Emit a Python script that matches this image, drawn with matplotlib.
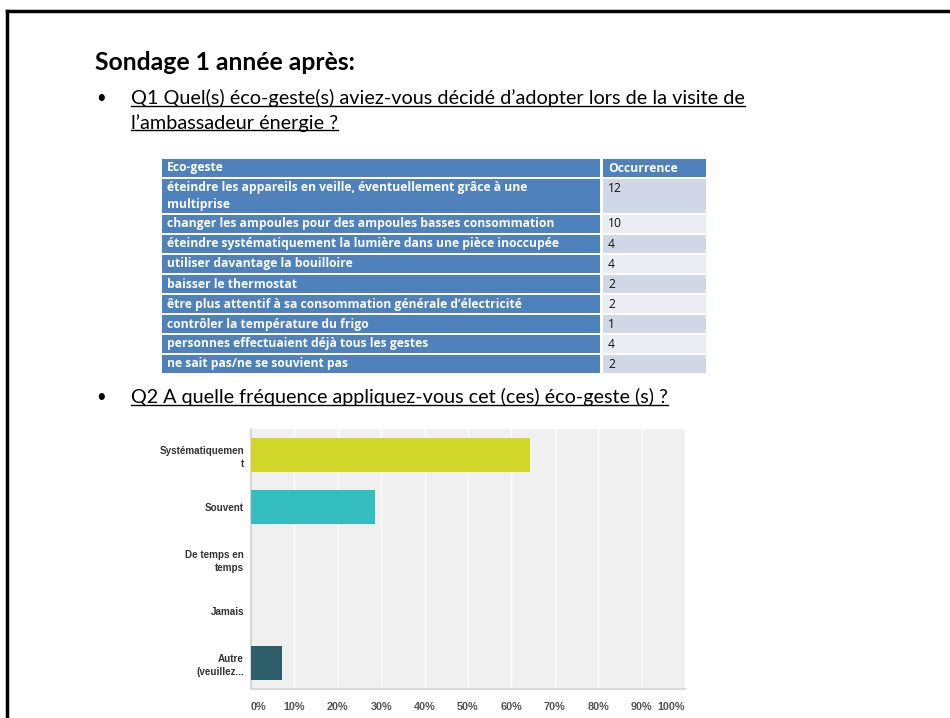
import matplotlib.pyplot as plt
from matplotlib.lines import Line2D
from matplotlib.patches import Rectangle

# --- données ---
titre = "Sondage 1 année après:"
q1 = ["Q1 Quel(s) éco-geste(s) aviez-vous décidé d\u2019adopter lors de la visite de",
      "l\u2019ambassadeur énergie ?"]
q2 = "Q2 A quelle fréquence appliquez-vous cet (ces) éco-geste (s) ?"

entete = ["Eco-geste", "Occurrence"]
gestes = ["éteindre les appareils en veille, éventuellement grâce à une\nmultiprise",
          "changer les ampoules pour des ampoules basses consommation",
          "éteindre systématiquement la lumière dans une pièce inoccupée",
          "utiliser davantage la bouilloire",
          "baisser le thermostat",
          "être plus attentif à sa consommation générale d\u2019électricité",
          "contrôler la température du frigo",
          "personnes effectuaient déjà tous les gestes",
          "ne sait pas/ne se souvient pas"]
occurrences = [12, 10, 4, 4, 2, 2, 1, 4, 2]

frequences = ["Systématiquemen\nt", "Souvent", "De temps en\ntemps", "Jamais", "Autre\n(veuillez..."]
pourcentages = [64.29, 28.57, 0, 0, 7.14]
couleurs = ["#D0D62A", "#34BEC0", "#7FA8B0", "#A0B0B5", "#2E5E69"]
graduations = list(range(0, 101, 10))

W, H = 950, 718
fig = plt.figure(figsize=(W / 100, H / 100), dpi=100)


def fx(x):
    return x / W


def fy(y):
    return 1 - y / H


# cadre de la diapo
fig.add_artist(Line2D([fx(7), 1], [fy(11), fy(11)], lw=2.5, color="black"))
fig.add_artist(Line2D([fx(7), fx(7)], [fy(11), 0], lw=2.5, color="black"))

police = ["Lato", "DejaVu Sans"]
fig.text(fx(95), fy(63), titre, fontsize=17.8, fontweight="bold", family=police, va="center")

soulignes = []
fig.text(fx(96), fy(98), "\u2022", fontsize=12, family=police, va="center")
soulignes.append(fig.text(fx(131), fy(98), q1[0], fontsize=14.3, family=police, va="center"))
soulignes.append(fig.text(fx(131), fy(123), q1[1], fontsize=14.3, family=police, va="center"))
fig.text(fx(96), fy(397), "\u2022", fontsize=12, family=police, va="center")
soulignes.append(fig.text(fx(131), fy(397), q2, fontsize=14.2, family=police, va="center"))

# --- tableau Q1 ---
bleu = "#4F81BD"
bandes = ["#D0D8E8", "#E9EDF4"]
x0, x1, x2, x3 = 162, 600, 603, 706
pol_tab = ["Open Sans", "DejaVu Sans"]
fs_tab = 8.7


def cellule(xa, xb, ya, yb, coul):
    fig.add_artist(Rectangle((fx(xa), fy(yb)), fx(xb - xa), (yb - ya) / H,
                             facecolor=coul, edgecolor="none"))


cellule(x0, x1, 159, 176.5, bleu)
cellule(x2, x3, 159, 176.5, bleu)
fig.text(fx(x0 + 5), fy(168), entete[0], color="white", fontsize=fs_tab, fontweight="bold",
         family=pol_tab, va="center")
fig.text(fx(x2 + 5), fy(168), entete[1], color="white", fontsize=fs_tab, fontweight="bold",
         family=pol_tab, va="center")

y = 179
for i, (g, n) in enumerate(zip(gestes, occurrences)):
    h = 34 if "\n" in g else 18
    cellule(x0, x1, y, y + h, bleu)
    cellule(x2, x3, y, y + h, bandes[i % 2])
    fig.text(fx(x0 + 5), fy(y + h / 2), g, color="white", fontsize=fs_tab, fontweight="bold",
             family=pol_tab, va="center", linespacing=1.35)
    fig.text(fx(x2 + 5), fy(y + 9), str(n), color="#111111", fontsize=fs_tab,
             family=pol_tab, va="center")
    y += h + 2

# --- graphique Q2 ---
ax = fig.add_axes([fx(251), fy(689), fx(685 - 251), (689 - 429) / H])
ax.set_facecolor("#F0F0F0")
pos = list(range(len(frequences)))
ax.barh(pos, pourcentages, height=0.67, color=couleurs, edgecolor="none", zorder=3)
ax.set_xlim(0, 100)
ax.set_ylim(len(frequences) - 0.5, -0.5)
ax.set_xticks(graduations)
ax.set_xticklabels([f"{g}%" for g in graduations])
ax.set_yticks(pos)
ax.set_yticklabels(frequences)
ax.grid(axis="x", color="white", lw=1.0, zorder=1)
ax.set_axisbelow(True)
ax.tick_params(length=0)
ax.tick_params(axis="x", pad=9, labelsize=7.8, labelcolor="#555555")
ax.tick_params(axis="y", pad=5, labelsize=7.1, labelcolor="#333333")
for lab in ax.get_xticklabels() + ax.get_yticklabels():
    lab.set_fontweight("bold")
    lab.set_family(["Liberation Sans", "DejaVu Sans"])
for lab in ax.get_yticklabels():
    lab.set_linespacing(1.35)
ax.get_xticklabels()[0].set_ha("left")
ax.get_xticklabels()[-1].set_ha("right")
for s in ["top", "right"]:
    ax.spines[s].set_visible(False)
ax.spines["left"].set_color("#D8D8D8")
ax.spines["bottom"].set_color("#D8D8D8")
ax.spines["left"].set_linewidth(1.5)
ax.spines["bottom"].set_linewidth(1.5)

# soulignement des questions
fig.canvas.draw()
rend = fig.canvas.get_renderer()
for t in soulignes:
    bb = t.get_window_extent(rend)
    fig.add_artist(Line2D([bb.x0 / W, bb.x1 / W], [(bb.y0 + 1.5) / H] * 2, lw=1, color="black"))

fig.savefig("out.png", dpi=100)
